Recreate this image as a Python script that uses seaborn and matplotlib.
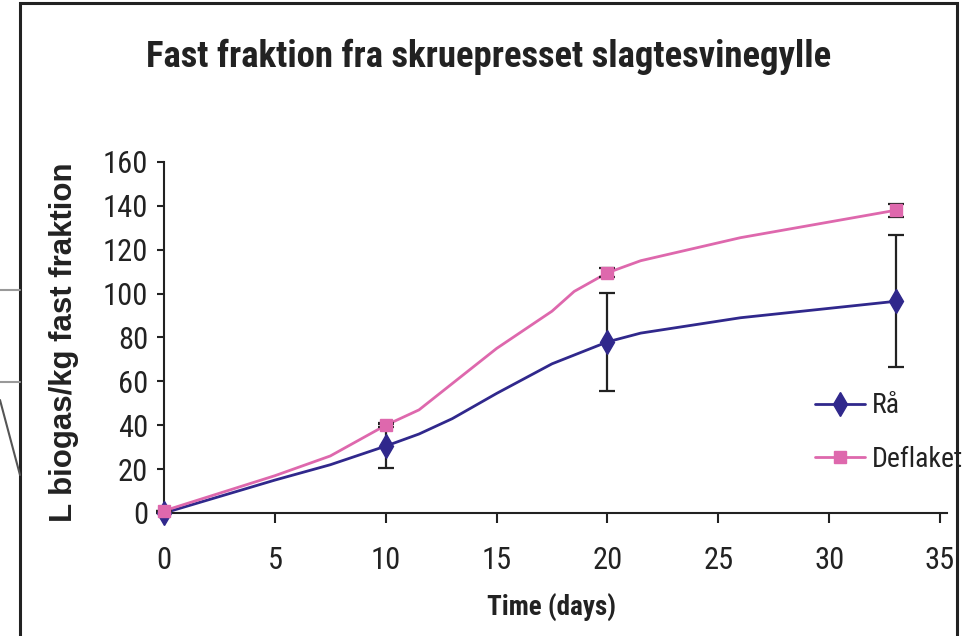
import numpy as np
import pandas as pd
import matplotlib
matplotlib.use("Agg")
import matplotlib.pyplot as plt
from matplotlib.lines import Line2D
from matplotlib.patches import Rectangle
import seaborn as sns

# måledage og målte værdier
days = [0, 10, 20, 33]
raa = [0, 30.5, 78, 96.5]
raa_err = [0, 10, 22.5, 30]
deflaket = [1, 40, 109.5, 138]
deflaket_err = [0, 1, 2, 3]

# den udglattede kurve
raa_curve_x = [0, 2.5, 5, 7.5, 10, 11.5, 13, 15, 17.5, 20, 21.5, 26, 33]
raa_curve_y = [0, 7.5, 15, 22, 30.5, 36, 43, 54.5, 68, 78, 82, 89, 96.5]
defl_curve_x = [0, 2.5, 5, 7.5, 10, 11.5, 12.5, 15, 17.5, 18.5, 20, 21.5, 26, 33]
defl_curve_y = [1, 9, 17, 26, 40, 47, 55, 75, 92, 101, 109.5, 115, 125.5, 138]

c_raa = "#30288C"
c_defl = "#DE68AD"
ink = "#222222"

sns.set_style("ticks")
narrow = ["Liberation Sans Narrow", "Arial Narrow", "Roboto Condensed", "Archivo Narrow", "DejaVu Sans"]
plt.rcParams["font.family"] = narrow

fig = plt.figure(figsize=(9.66, 6.36), dpi=100)
ax = fig.add_axes([0.1698, 0.1934, 0.8033, 0.5519])

df_raa = pd.DataFrame({"t": raa_curve_x, "v": raa_curve_y})
df_defl = pd.DataFrame({"t": defl_curve_x, "v": defl_curve_y})
sns.lineplot(data=df_raa, x="t", y="v", sort=False, color=c_raa, lw=2, ax=ax, legend=False)
sns.lineplot(data=df_defl, x="t", y="v", sort=False, color=c_defl, lw=2, ax=ax, legend=False)

ax.errorbar(days, raa, yerr=raa_err, fmt="d", color=c_raa, ms=12.5, ecolor=ink,
            elinewidth=1.6, capsize=6, capthick=1.6, clip_on=False, zorder=4)
ax.errorbar(days, deflaket, yerr=deflaket_err, fmt="s", color=c_defl, ms=9, ecolor=ink,
            elinewidth=1.6, capsize=6, capthick=1.6, clip_on=False, zorder=5)

ax.set_xlim(0, 35)
ax.set_ylim(0, 160)
ax.set_xticks(range(0, 36, 5))
ax.set_yticks(range(0, 161, 20))
for ln in ax.get_lines():
    ln.set_clip_on(False)
sns.despine(ax=ax)
ax.spines["left"].set_linewidth(1.5)
ax.spines["bottom"].set_linewidth(1.5)
ax.spines["left"].set_color(ink)
ax.spines["bottom"].set_color(ink)
ax.spines["bottom"].set_bounds(0, 35.3)
ax.tick_params(axis="y", direction="out", length=5, width=1.5, labelsize=22, pad=6.5, colors=ink)
ax.tick_params(axis="x", direction="out", length=7, width=1.5, labelsize=22, pad=17, colors=ink)

ax.set_xlabel("Time (days)", fontsize=19.5, fontweight="bold", color=ink)
ax.xaxis.set_label_coords(0.499, -0.23)
ax.set_ylabel("L biogas/kg fast fraktion", fontsize=22.5, fontweight="bold", color=ink,
              family=["Liberation Sans", "DejaVu Sans"])
ax.yaxis.set_label_coords(-0.11, 0.487)

fig.text(0.506, 0.91, "Fast fraktion fra skruepresset slagtesvinegylle", ha="center", va="center",
         fontsize=26.5, fontweight="bold", color=ink)

handles = [Line2D([], [], color=c_raa, lw=2, marker="d", ms=12.5),
           Line2D([], [], color=c_defl, lw=2, marker="s", ms=9)]
ax.legend(handles, ["Rå", "Deflaket"], loc="center left", bbox_to_anchor=(0.839, 0.229),
          frameon=False, fontsize=20, handlelength=1.8, handletextpad=0.25, labelspacing=0.95,
          borderpad=0, borderaxespad=0, labelcolor=ink)

# ramme omkring figuren
fig.patches.append(Rectangle((20 / 966, -0.05), (957 - 20) / 966, 1.05 - 3 / 636,
                             transform=fig.transFigure, fill=False, lw=2.2, ec=ink))
# grå rester af baggrunden til venstre
fig.add_artist(Line2D([0, 20 / 966], [1 - 290 / 636] * 2, color="#999999", lw=1.5))
fig.add_artist(Line2D([0, 20 / 966], [1 - 382 / 636] * 2, color="#999999", lw=1.5))
fig.add_artist(Line2D([0, 20 / 966], [1 - 400 / 636, 1 - 475 / 636], color="#555555", lw=1.5))

fig.savefig("out.png", dpi=100)
